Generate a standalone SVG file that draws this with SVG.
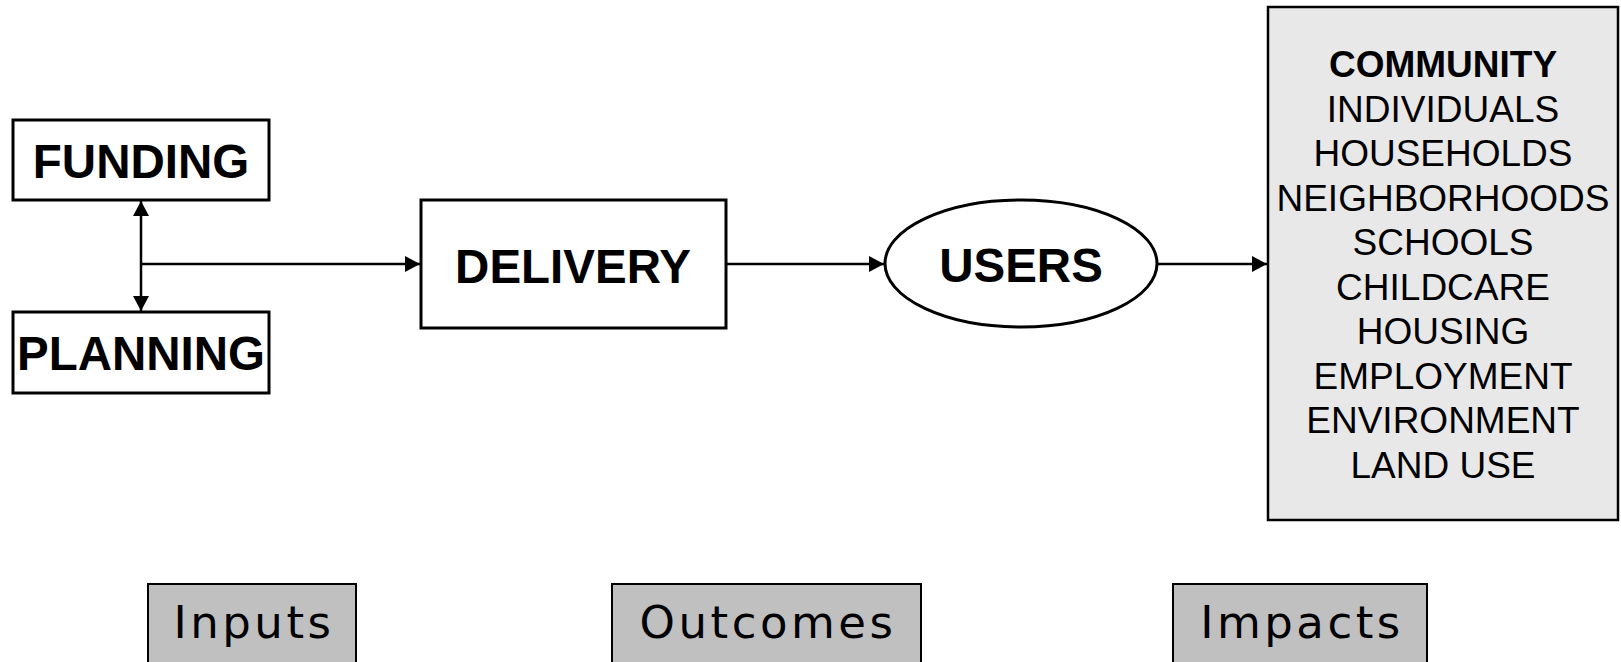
<svg xmlns="http://www.w3.org/2000/svg" width="1621" height="662" viewBox="0 0 1621 662">
<style>
.box{fill:#ffffff;stroke:#000;stroke-width:3}
.comm{fill:#e8e8e8;stroke:#000;stroke-width:2.5}
.lbl{fill:#c0c0c0;stroke:#000;stroke-width:2}
.bold{font-family:"Liberation Sans",Arial,sans-serif;font-weight:bold;font-size:47.5px;text-anchor:middle;fill:#000}
.list{font-family:"Liberation Sans",Arial,sans-serif;font-size:37px;text-anchor:middle;fill:#000}
.cap{font-family:"DejaVu Sans",Verdana,sans-serif;font-size:45px;letter-spacing:3.5px;text-anchor:middle;fill:#000}
.edge{stroke:#000;stroke-width:2.5;fill:none}
</style>
<defs>
<marker id="arr" markerUnits="userSpaceOnUse" markerWidth="16" markerHeight="16" refX="15" refY="8" orient="auto-start-reverse">
<path d="M0,0 L15,8 L0,16 z" fill="#000"/>
</marker>
</defs>
<rect width="1621" height="662" fill="#fff"/>
<g id="connectors">
<line class="edge" x1="141" y1="201" x2="141" y2="311" marker-start="url(#arr)" marker-end="url(#arr)"/>
<line class="edge" x1="141" y1="264" x2="420" y2="264" marker-end="url(#arr)"/>
<line class="edge" x1="726" y1="264" x2="884" y2="264" marker-end="url(#arr)"/>
<line class="edge" x1="1157" y1="264" x2="1267" y2="264" marker-end="url(#arr)"/>
</g>
<g id="funding">
<rect class="box" x="13" y="120" width="256" height="80"/>
<text class="bold" x="141" y="178">FUNDING</text>
</g>
<g id="planning">
<rect class="box" x="13" y="312" width="256" height="81"/>
<text class="bold" x="141" y="370">PLANNING</text>
</g>
<g id="delivery">
<rect class="box" x="421" y="200" width="305" height="128"/>
<text class="bold" x="573" y="283">DELIVERY</text>
</g>
<g id="users">
<ellipse class="box" cx="1021" cy="263.5" rx="136" ry="63.5" stroke-width="2.5"/>
<text class="bold" x="1021" y="282">USERS</text>
</g>
<g id="community">
<rect class="comm" x="1268" y="7" width="350" height="513"/>
<text class="list" x="1443" y="77" font-weight="bold">COMMUNITY</text>
<text class="list" x="1443" y="121.5">INDIVIDUALS</text>
<text class="list" x="1443" y="166">HOUSEHOLDS</text>
<text class="list" x="1443" y="210.5">NEIGHBORHOODS</text>
<text class="list" x="1443" y="255">SCHOOLS</text>
<text class="list" x="1443" y="299.5">CHILDCARE</text>
<text class="list" x="1443" y="344">HOUSING</text>
<text class="list" x="1443" y="388.5">EMPLOYMENT</text>
<text class="list" x="1443" y="433">ENVIRONMENT</text>
<text class="list" x="1443" y="478">LAND USE</text>
</g>
<g id="inputs">
<rect class="lbl" x="148" y="584" width="208" height="90"/>
<text class="cap" x="254" y="638">Inputs</text>
</g>
<g id="outcomes">
<rect class="lbl" x="612" y="584" width="309" height="90"/>
<text class="cap" x="768" y="638">Outcomes</text>
</g>
<g id="impacts">
<rect class="lbl" x="1173" y="584" width="254" height="90"/>
<text class="cap" x="1302" y="638">Impacts</text>
</g>
</svg>
